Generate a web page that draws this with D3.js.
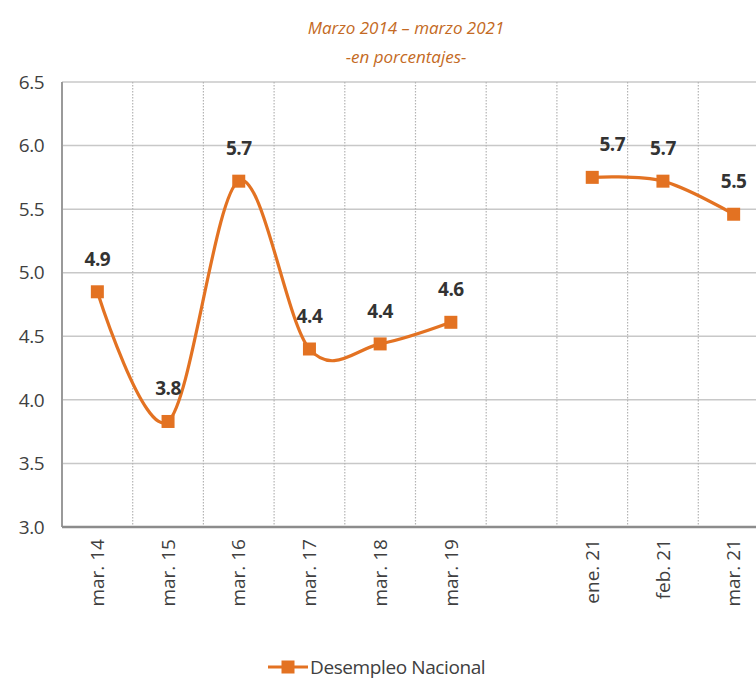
<!DOCTYPE html>
<meta charset="utf-8">
<html><head>
<style>
body { margin: 0; background: #fff; }
text { font-family: "Open Sans", "Noto Sans", sans-serif; }
.grid line { stroke: #c8c8c8; stroke-width: 1.5px; }
.vgrid line { stroke: #b4b4b4; stroke-width: 1.2px; stroke-dasharray: 1.5,1.5; }
.axis text { fill: #404040; }
.lbl { font-size: 19px; font-weight: bold; fill: #333; text-anchor: middle; letter-spacing: -0.5px; }
</style>
</head>
<body>
<svg width="756" height="682"></svg>
<script src="https://d3js.org/d3.v7.min.js"></script>
<script>

// data
var categories = ["mar. 14", "mar. 15", "mar. 16", "mar. 17", "mar. 18", "mar. 19", "", "ene. 21", "feb. 21", "mar. 21"];
var values = [4.85, 3.83, 5.72, 4.40, 4.44, 4.61, null, 5.75, 5.72, 5.46];
var labels = ["4.9", "3.8", "5.7", "4.4", "4.4", "4.6", "", "5.7", "5.7", "5.5"];
var yTicks = [3.0, 3.5, 4.0, 4.5, 5.0, 5.5, 6.0, 6.5];
var seriesName = "Desempleo Nacional";
var title1 = "Marzo 2014 \u2013 marzo 2021";
var title2 = "-en porcentajes-";

var svg = d3.select("svg"),
    width = +svg.attr("width"),
    height = +svg.attr("height");

var orange = "#e37222";
var margin = {left: 62, top: 82, bottom: 155};
var plotRight = 769;   // chart is cut off on the right in the source
var plotBottom = height - margin.bottom;

var x = d3.scaleBand()
    .domain(d3.range(categories.length))
    .range([margin.left, plotRight]);

var y = d3.scaleLinear()
    .domain([3, 6.5])
    .range([plotBottom, margin.top]);

// horizontal grid
svg.append("g")
    .attr("class", "grid")
  .selectAll("line")
  .data(yTicks)
  .enter().append("line")
    .attr("x1", margin.left)
    .attr("x2", plotRight)
    .attr("y1", function(d) { return y(d); })
    .attr("y2", function(d) { return y(d); });

// vertical dotted grid at category boundaries
svg.append("g")
    .attr("class", "vgrid")
  .selectAll("line")
  .data(d3.range(1, categories.length + 1))
  .enter().append("line")
    .attr("x1", function(i) { return margin.left + i * x.step(); })
    .attr("x2", function(i) { return margin.left + i * x.step(); })
    .attr("y1", margin.top)
    .attr("y2", plotBottom);

// axis lines
svg.append("line")
    .attr("x1", margin.left).attr("x2", margin.left)
    .attr("y1", margin.top).attr("y2", plotBottom)
    .attr("stroke", "#9a9a9a").attr("stroke-width", 2);
svg.append("line")
    .attr("x1", margin.left).attr("x2", plotRight)
    .attr("y1", plotBottom).attr("y2", plotBottom)
    .attr("stroke", "#8c8c8c").attr("stroke-width", 2.5);

// y tick labels
svg.append("g")
    .attr("class", "axis")
  .selectAll("text")
  .data(yTicks)
  .enter().append("text")
    .attr("x", 44)
    .attr("y", function(d) { return y(d); })
    .attr("dy", "0.35em")
    .attr("text-anchor", "end")
    .attr("font-size", 19)
    .attr("letter-spacing", -0.5)
    .text(function(d) { return d.toFixed(1); });

// x tick labels (rotated)
svg.append("g")
    .attr("class", "axis")
  .selectAll("text")
  .data(categories)
  .enter().append("text")
    .attr("transform", function(d, i) {
      return "translate(" + (x(i) + x.bandwidth() / 2) + "," + (plotBottom + 12) + ") rotate(-90)";
    })
    .attr("dy", "0.35em")
    .attr("text-anchor", "end")
    .attr("font-size", 19)
    .text(function(d) { return d; });

// line
var pts = values.map(function(v, i) { return {i: i, v: v}; });
var line = d3.line()
    .defined(function(d) { return d.v != null; })
    .x(function(d) { return x(d.i) + x.bandwidth() / 2; })
    .y(function(d) { return y(d.v); })
    .curve(d3.curveCardinal.tension(0));

svg.append("path")
    .datum(pts)
    .attr("d", line)
    .attr("fill", "none")
    .attr("stroke", orange)
    .attr("stroke-width", 3.2);

var valid = pts.filter(function(d) { return d.v != null; });

svg.append("g")
  .selectAll("rect")
  .data(valid)
  .enter().append("rect")
    .attr("x", function(d) { return x(d.i) + x.bandwidth() / 2 - 6.5; })
    .attr("y", function(d) { return y(d.v) - 6.5; })
    .attr("width", 13)
    .attr("height", 13)
    .attr("fill", orange);

// data labels
svg.append("g")
  .selectAll("text")
  .data(valid)
  .enter().append("text")
    .attr("class", "lbl")
    .attr("x", function(d) { return x(d.i) + x.bandwidth() / 2 + (d.i === 7 ? 20 : 0); })
    .attr("y", function(d) { return y(d.v) - 26; })
    .text(function(d) { return labels[d.i]; });

// title
svg.append("text")
    .attr("x", 406).attr("y", 34)
    .attr("text-anchor", "middle")
    .attr("font-style", "italic")
    .attr("font-size", 17)
    .attr("fill", "#c46a24")
    .text(title1);
svg.append("text")
    .attr("x", 406).attr("y", 63)
    .attr("text-anchor", "middle")
    .attr("font-style", "italic")
    .attr("font-size", 17)
    .attr("fill", "#c46a24")
    .text(title2);

// legend
var lg = svg.append("g").attr("transform", "translate(268,667)");
lg.append("line")
    .attr("x1", 0).attr("x2", 40)
    .attr("stroke", orange).attr("stroke-width", 3.2);
lg.append("rect")
    .attr("x", 13.5).attr("y", -6.5).attr("width", 13).attr("height", 13)
    .attr("fill", orange);
lg.append("text")
    .attr("x", 42).attr("dy", "0.35em")
    .attr("font-size", 19)
    .attr("letter-spacing", -0.4)
    .attr("fill", "#404040")
    .text(seriesName);

</script>
</body>
</html>
